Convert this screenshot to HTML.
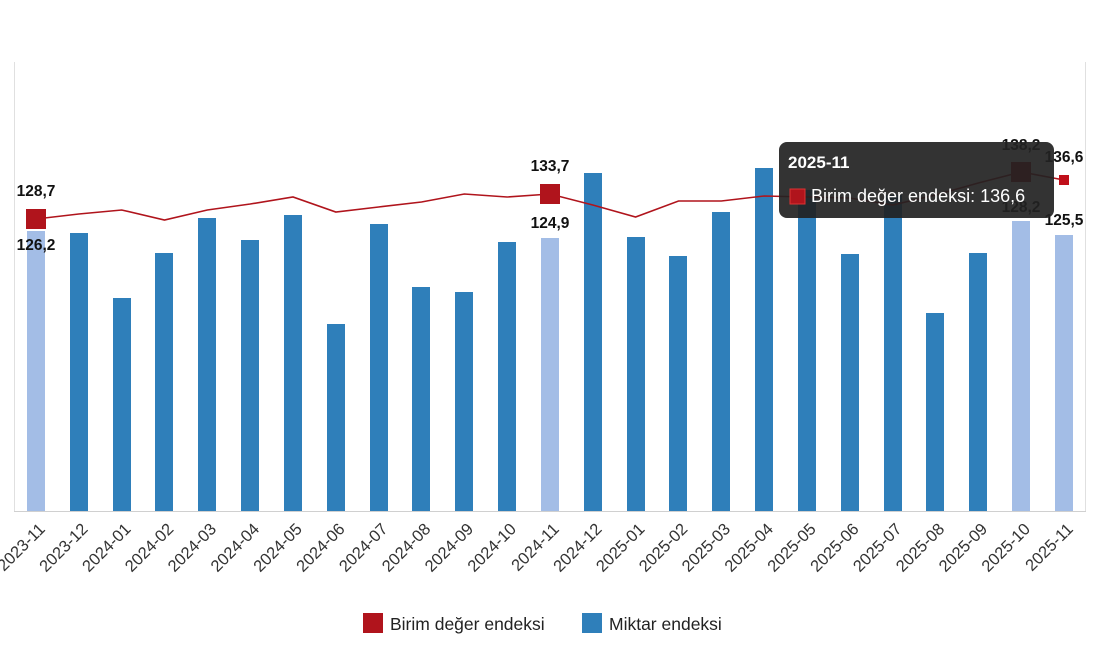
<!DOCTYPE html><html><head><meta charset="utf-8"><style>body{margin:0;background:#fff}svg{display:block;font-family:"Liberation Sans",sans-serif}</style></head><body>
<svg width="1100" height="650" xmlns="http://www.w3.org/2000/svg">
<line x1="14.5" y1="62" x2="14.5" y2="511" stroke="#e0e0e0"/>
<line x1="1085.5" y1="62" x2="1085.5" y2="511" stroke="#e0e0e0"/>
<line x1="14" y1="511.5" x2="1086" y2="511.5" stroke="#d0d0d0"/>
<g fill="#2f7fba">
<rect x="27" y="231" width="18" height="280" fill="#a3bde6"/>
<rect x="70" y="233" width="18" height="278"/>
<rect x="113" y="298" width="18" height="213"/>
<rect x="155" y="253" width="18" height="258"/>
<rect x="198" y="218" width="18" height="293"/>
<rect x="241" y="240" width="18" height="271"/>
<rect x="284" y="215" width="18" height="296"/>
<rect x="327" y="324" width="18" height="187"/>
<rect x="370" y="224" width="18" height="287"/>
<rect x="412" y="287" width="18" height="224"/>
<rect x="455" y="292" width="18" height="219"/>
<rect x="498" y="242" width="18" height="269"/>
<rect x="541" y="238" width="18" height="273" fill="#a3bde6"/>
<rect x="584" y="173" width="18" height="338"/>
<rect x="627" y="237" width="18" height="274"/>
<rect x="669" y="256" width="18" height="255"/>
<rect x="712" y="212" width="18" height="299"/>
<rect x="755" y="168" width="18" height="343"/>
<rect x="798" y="190" width="18" height="321"/>
<rect x="841" y="254" width="18" height="257"/>
<rect x="884" y="195" width="18" height="316"/>
<rect x="926" y="313" width="18" height="198"/>
<rect x="969" y="253" width="18" height="258"/>
<rect x="1012" y="221" width="18" height="290" fill="#a3bde6"/>
<rect x="1055" y="235" width="18" height="276" fill="#a3bde6"/>
</g>
<polyline fill="none" stroke="#b0141c" stroke-width="1.6" points="36,219 78.8,214 121.7,210 164.5,220 207.3,210 250.2,204 293,197 335.8,212 378.6,207 421.5,202 464.3,194 507.1,197 550,194 592.8,205 635.6,217 678.5,201 721.3,201 764.1,196 806.9,197 849.8,198 892.6,205 935.4,195 978.3,183 1021.1,172 1064,180"/>
<rect x="26" y="209" width="20" height="20" fill="#b0141c"/>
<rect x="540" y="184" width="20" height="20" fill="#b0141c"/>
<rect x="1011" y="162" width="20" height="20" fill="#b0141c"/>
<rect x="1059" y="175" width="10" height="10" fill="#c0101a"/>
<g font-size="15.5" font-weight="bold" fill="#111" text-anchor="middle">
<text x="36" y="196">128,7</text><text x="36" y="250">126,2</text>
<text x="550" y="171">133,7</text><text x="550" y="228">124,9</text>
<text x="1021" y="150">138,2</text><text x="1021" y="212">128,2</text>
<text x="1064" y="162">136,6</text><text x="1064" y="225">125,5</text>
</g>
<rect x="779" y="142" width="275" height="76" rx="8" fill="#222" fill-opacity="0.92"/>
<text x="788" y="168" font-size="17" font-weight="bold" fill="#fff">2025-11</text>
<rect x="790" y="189" width="15" height="15" fill="#b0141c" stroke="#d33" stroke-width="1"/>
<text x="811" y="202" font-size="18" fill="#fff">Birim değer endeksi: 136,6</text>
<g font-size="16.5" fill="#333" text-anchor="end">
<text transform="translate(46,530) rotate(-45)">2023-11</text>
<text transform="translate(88.8,530) rotate(-45)">2023-12</text>
<text transform="translate(131.7,530) rotate(-45)">2024-01</text>
<text transform="translate(174.5,530) rotate(-45)">2024-02</text>
<text transform="translate(217.3,530) rotate(-45)">2024-03</text>
<text transform="translate(260.2,530) rotate(-45)">2024-04</text>
<text transform="translate(303,530) rotate(-45)">2024-05</text>
<text transform="translate(345.8,530) rotate(-45)">2024-06</text>
<text transform="translate(388.6,530) rotate(-45)">2024-07</text>
<text transform="translate(431.5,530) rotate(-45)">2024-08</text>
<text transform="translate(474.3,530) rotate(-45)">2024-09</text>
<text transform="translate(517.1,530) rotate(-45)">2024-10</text>
<text transform="translate(560,530) rotate(-45)">2024-11</text>
<text transform="translate(602.8,530) rotate(-45)">2024-12</text>
<text transform="translate(645.6,530) rotate(-45)">2025-01</text>
<text transform="translate(688.5,530) rotate(-45)">2025-02</text>
<text transform="translate(731.3,530) rotate(-45)">2025-03</text>
<text transform="translate(774.1,530) rotate(-45)">2025-04</text>
<text transform="translate(816.9,530) rotate(-45)">2025-05</text>
<text transform="translate(859.8,530) rotate(-45)">2025-06</text>
<text transform="translate(902.6,530) rotate(-45)">2025-07</text>
<text transform="translate(945.4,530) rotate(-45)">2025-08</text>
<text transform="translate(988.3,530) rotate(-45)">2025-09</text>
<text transform="translate(1031.1,530) rotate(-45)">2025-10</text>
<text transform="translate(1074,530) rotate(-45)">2025-11</text>
</g>
<rect x="363" y="613" width="20" height="20" fill="#b0141c"/>
<text x="390" y="630" font-size="17.5" fill="#222">Birim değer endeksi</text>
<rect x="582" y="613" width="20" height="20" fill="#2f7fba"/>
<text x="609" y="630" font-size="17.5" fill="#222">Miktar endeksi</text>
</svg></body></html>
